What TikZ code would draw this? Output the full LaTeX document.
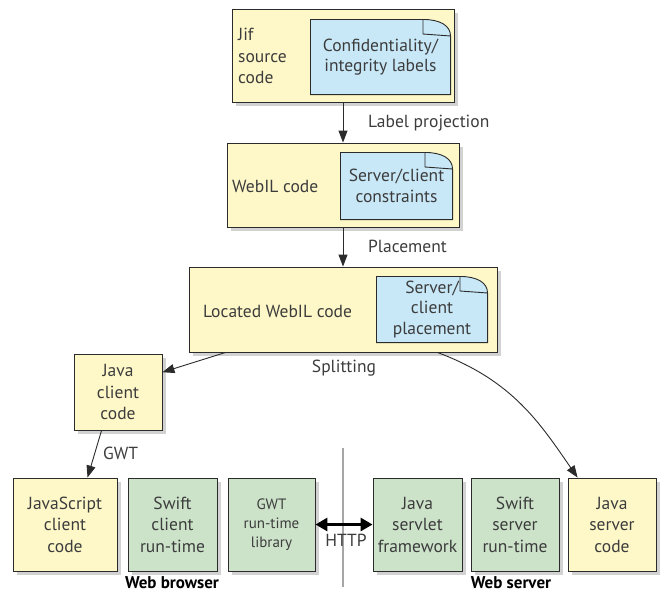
\documentclass[tikz,border=0pt]{standalone}
\usepackage{fontspec}
\setmainfont{PT Sans}
\usetikzlibrary{arrows.meta,shadows}
\definecolor{boxyel}{HTML}{FEF8C8}
\definecolor{boxgrn}{HTML}{CCE3CA}
\definecolor{notebl}{HTML}{C8E8F8}
\definecolor{edge}{HTML}{2B2B2B}
\definecolor{ink}{HTML}{3C3C3C}
\begin{document}
\begin{tikzpicture}[x=1pt,y=-1pt]

    \tikzset{
      box/.style={
        draw=edge,
        line width=0.9pt,
        inner sep=0pt,
        align=center,
        text=ink,
        font=\fontsize{17.5}{21.5}\selectfont,
        drop shadow={shadow xshift=3.5pt, shadow yshift=-3.5pt, opacity=0.25, fill=black!70},
      },
      ybox/.style={box, fill=boxyel},
      gbox/.style={box, fill=boxgrn},
      note/.style={
        inner sep=0pt,
        align=center,
        text=ink,
        font=\fontsize{17.5}{20.5}\selectfont,
        path picture={
          \filldraw[fill=notebl, draw=edge, line width=0.9pt]
            ([shift={(0.45pt,0.45pt)}]path picture bounding box.south west)
            -- ([shift={(0.45pt,-0.45pt)}]path picture bounding box.north west)
            -- ([shift={(-28pt,-0.45pt)}]path picture bounding box.north east)
            .. controls ([shift={(-12pt,-0.45pt)}]path picture bounding box.north east)
            and ([shift={(-0.45pt,-6pt)}]path picture bounding box.north east)
            .. ([shift={(-0.45pt,-17pt)}]path picture bounding box.north east)
            -- ([shift={(-0.45pt,0.45pt)}]path picture bounding box.south east)
            -- cycle;
          \draw[edge, line width=0.9pt]
            ([shift={(-28pt,-0.45pt)}]path picture bounding box.north east)
            -- ([shift={(-28pt,-15pt)}]path picture bounding box.north east)
            -- ([shift={(-0.45pt,-17pt)}]path picture bounding box.north east);
        },
      },
      lbl/.style={text=ink, anchor=west, align=left, inner sep=0pt, font=\fontsize{17.5}{21.5}\selectfont},
      side/.style={text=black, inner sep=0pt, font=\fontsize{17}{19}\selectfont\bfseries},
      arr/.style={draw=edge, line width=0.9pt, -{Triangle[length=12pt,width=9pt]}},
      http/.style={draw=black, line width=3pt, {Triangle[length=12pt,width=13pt]}-{Triangle[length=12pt,width=13pt]}},
      divider/.style={draw=black!35, line width=2pt},
    }
    \useasboundingbox (0,0) rectangle (669,595);

    % compiler chain
    \node[ybox, minimum width=222pt, minimum height=93pt] (jif) at (343,55.5) {};
    \node[lbl] (jiftext) at (238,56) {Jif\\source\\code};
    \node[note, minimum width=141pt, minimum height=76pt] (conf) at (380.5,57) {Confidentiality/\\integrity labels};

    \node[ybox, minimum width=232pt, minimum height=84pt] (webil) at (343,185) {};
    \node[lbl] (webiltext) at (232,186) {WebIL code};
    \node[note, minimum width=113pt, minimum height=68pt] (cons) at (396.5,186) {Server/client\\constraints};

    \node[ybox, minimum width=308pt, minimum height=85pt] (loc) at (343,309.5) {};
    \node[lbl] (loctext) at (203,311) {Located WebIL code};
    \node[note, minimum width=112pt, minimum height=67pt] (place) at (432,309.5) {Server/\\client\\placement};

    \node[ybox, minimum width=88pt, minimum height=76pt] (jcc) at (118,392) {Java\\client\\code};

    % browser and server side
    \node[ybox, minimum width=104pt, minimum height=93pt] (js) at (65,524.5) {JavaScript\\client\\code};
    \node[gbox, minimum width=89pt, minimum height=93pt] (swc) at (172.5,524.5) {Swift\\client\\run-time};
    \node[gbox, minimum width=87pt, minimum height=93pt, font=\fontsize{15}{19}\selectfont] (gwtlib) at (271.5,524.5) {GWT\\run-time\\library};
    \node[gbox, minimum width=89pt, minimum height=93pt] (servlet) at (417.5,524.5) {Java\\servlet\\framework};
    \node[gbox, minimum width=88pt, minimum height=93pt] (sws) at (515,524.5) {Swift\\server\\run-time};
    \node[ybox, minimum width=88pt, minimum height=93pt] (jsc) at (612,524.5) {Java\\server\\code};

    \draw[divider] (343,448) -- (343,587);

    \draw[arr] (jif.south) -- (webil.north);
    \draw[arr] (webil.south) -- (loc.north);
    \draw[arr] ([xshift=37pt]loc.south west) -- (jcc.24);
    \draw[arr] ([xshift=28pt]jcc.south west) -- ([xshift=75pt]js.north west);
    \draw[arr] ([xshift=-60pt]loc.south east) .. controls +(75,28) and +(-38,-55) .. ([xshift=10pt]jsc.north west);
    \draw[http] (gwtlib.east) -- (servlet.west);

    \node[lbl] (projlbl) at (368,123) {Label projection};
    \node[lbl] (placelbl) at (368,246) {Placement};
    \node[lbl, anchor=center] (splitlbl) at (344,368) {Splitting};
    \node[lbl] (gwtlbl) at (103,453) {GWT};
    \node[lbl, anchor=center] (httplbl) at (346,540) {HTTP};
    \node[side] (browser) at (172,583) {Web browser};
    \node[side] (server) at (511,583) {Web server};

\end{tikzpicture}
\end{document}
